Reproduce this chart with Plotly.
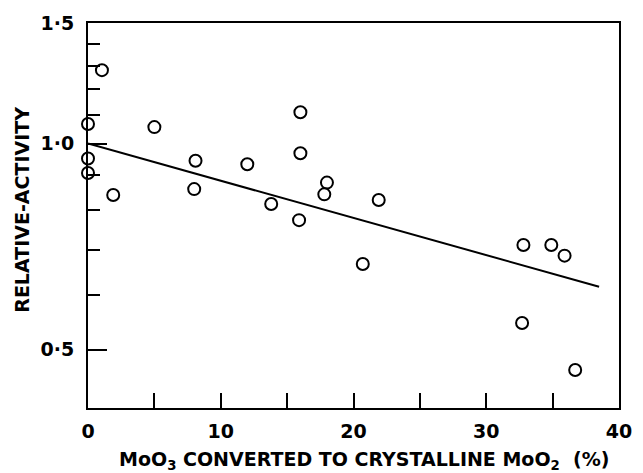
import math
import plotly.graph_objects as go

# Data
conversion_pct = [0.0, 0.0, 0.0, 1.05, 1.9, 5.0, 8.1, 8.0, 12.0, 16.0, 16.0,
                  18.0, 17.8, 13.8, 15.9, 21.9, 20.7, 32.8, 34.9, 35.9, 32.7, 36.7]
relative_activity = [1.068, 0.951, 0.906, 1.280, 0.841, 1.057, 0.944, 0.858, 0.933,
                     1.111, 0.968, 0.877, 0.843, 0.816, 0.773, 0.827, 0.667, 0.711,
                     0.711, 0.686, 0.547, 0.467]

fit_x = [0.0, 38.5]
fit_y = [1.0, 0.618]

x_tickvals = [0, 10, 20, 30, 40]
x_ticktext = ["0", "10", "20", "30", "40"]
x_minor_vals = [5, 15, 25, 35]
y_tickvals = [0.5, 1.0, 1.5]
y_ticktext = ["0·5", "1·0", "1·5"]
y_minor_vals = [0.6, 0.7, 0.8, 0.9, 1.1, 1.2, 1.3, 1.4]
y_range = [0.411, 1.5]
x_range = [0, 40]

FONT = "DejaVu Sans"

fig = go.Figure()
fig.add_trace(go.Scatter(x=fit_x, y=fit_y, mode="lines",
                         line=dict(color="black", width=2), showlegend=False))
fig.add_trace(go.Scatter(x=conversion_pct, y=relative_activity, mode="markers",
                         marker=dict(symbol="circle-open", size=12, color="black",
                                     line=dict(width=2, color="black")),
                         showlegend=False, cliponaxis=False))

fig.update_layout(
    width=643, height=473,
    margin=dict(l=88, r=11, t=23, b=65),
    paper_bgcolor="white", plot_bgcolor="white",
    font=dict(family=FONT, color="black"),
    xaxis=dict(range=x_range, tickmode="array", tickvals=x_tickvals, ticktext=x_ticktext,
               ticks="inside", ticklen=15, tickwidth=1.5, tickcolor="black",
               minor=dict(tickmode="array", tickvals=x_minor_vals, ticks="inside",
                          ticklen=15, tickwidth=1.5, tickcolor="black", showgrid=False),
               showline=True, linewidth=2, linecolor="black", mirror=True,
               showgrid=False, zeroline=False, ticklabelstandoff=5,
               ticklabeloverflow="allow",
               tickfont=dict(size=19, family=FONT, weight="bold")),
    yaxis=dict(type="log", range=[math.log10(y_range[0]), math.log10(y_range[1])],
               tickmode="array", tickvals=y_tickvals, ticktext=y_ticktext,
               ticks="inside", ticklen=19, tickwidth=1.5, tickcolor="black",
               minor=dict(tickmode="array", tickvals=y_minor_vals, ticks="inside",
                          ticklen=12, tickwidth=1.5, tickcolor="black", showgrid=False),
               showline=True, linewidth=2, linecolor="black", mirror=True,
               showgrid=False, zeroline=False, ticklabelstandoff=8,
               ticklabeloverflow="allow",
               tickfont=dict(size=19, family=FONT, weight="bold")),
    annotations=[
        dict(text="MoO<sub>3</sub> CONVERTED TO CRYSTALLINE MoO<sub>2</sub>  (%)",
             xref="paper", yref="paper", x=0.52, y=-0.136, showarrow=False,
             xanchor="center", yanchor="middle",
             font=dict(size=19, family=FONT, weight="bold")),
        dict(text="RELATIVE-ACTIVITY", xref="paper", yref="paper", x=-0.125, y=0.514,
             textangle=-90, showarrow=False, xanchor="center", yanchor="middle",
             font=dict(size=19, family=FONT, weight="bold")),
    ],
)

fig.write_html("out.html")
